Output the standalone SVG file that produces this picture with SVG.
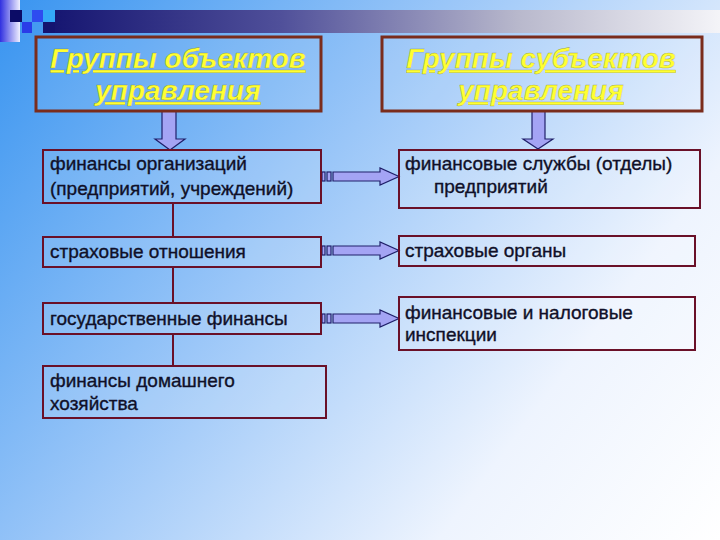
<svg xmlns="http://www.w3.org/2000/svg" width="720" height="540" viewBox="0 0 720 540">
<defs>
<linearGradient id="bg" gradientUnits="userSpaceOnUse" x1="0" y1="0" x2="720" y2="540">
<stop offset="0" stop-color="#3894f0"/>
<stop offset="0.4" stop-color="#9ac6f8"/>
<stop offset="0.75" stop-color="#eef4fe"/>
<stop offset="1" stop-color="#ffffff"/>
</linearGradient>
<linearGradient id="bar" x1="0" y1="0" x2="1" y2="0">
<stop offset="0" stop-color="#141470"/>
<stop offset="0.35" stop-color="#50509a"/>
<stop offset="0.7" stop-color="#b8b8cc"/>
<stop offset="1" stop-color="#f4f4f8"/>
</linearGradient>
<linearGradient id="col" x1="0" y1="0" x2="1" y2="0">
<stop offset="0" stop-color="#3030e0"/>
<stop offset="1" stop-color="#f0f0ff"/>
</linearGradient>
<style>
.hdr{fill:#ffffff;fill-opacity:0.08;stroke:#7a2c1c;stroke-width:3}
.box{fill:#ffffff;fill-opacity:0.12;stroke:#6a1028;stroke-width:2}
.ht{font-family:"Liberation Sans",Arial,sans-serif;font-size:28px;font-weight:bold;font-style:italic;fill:#ffff33;text-decoration:underline;text-anchor:middle;stroke:#5a5a20;stroke-width:0.4;stroke-opacity:0.5}
.t{font-family:"Liberation Sans",Arial,sans-serif;font-size:19px;fill:#101028;stroke:#101028;stroke-width:0.35}
.arr{fill:#a4a4f4;stroke:#20206a;stroke-width:1.2}
.vl{stroke:#6a1028;stroke-width:2;fill:none}
</style>
</defs>
<rect width="720" height="540" fill="url(#bg)"/>
<g id="decor">
<rect x="45" y="10" width="675" height="23" fill="url(#bar)"/>
<rect x="0" y="0" width="20" height="42" fill="url(#col)"/>
<rect x="10" y="10" width="12" height="12" fill="#0c0c66"/>
<rect x="32" y="10" width="11" height="12" fill="#2e4cf0"/>
<rect x="43" y="10" width="12" height="12" fill="#34a8f8"/>
<rect x="22" y="22" width="10" height="11" fill="#2a3ce8"/>
<rect x="43" y="22" width="12" height="11" fill="#141470"/>
</g>
<g id="connectors">
<path class="arr" d="M162,111 H176 V139 H185 L170,150 L155,139 H162 Z"/>
<path class="arr" d="M532,111 H545 V139 H553 L538,149 L523,139 H532 Z"/>
<line class="vl" x1="173" y1="203" x2="173" y2="237"/>
<line class="vl" x1="173" y1="267" x2="173" y2="303"/>
<line class="vl" x1="173" y1="334" x2="173" y2="366"/>
<g id="arrow1">
<rect class="arr" x="322" y="172" width="3" height="9"/>
<rect class="arr" x="327" y="172" width="4" height="9"/>
<path class="arr" d="M333,172 H380 V168 L399,176.5 L380,185 V181 H333 Z"/>
</g>
<g id="arrow2">
<rect class="arr" x="322" y="246" width="3" height="9"/>
<rect class="arr" x="327" y="246" width="4" height="9"/>
<path class="arr" d="M333,246 H380 V242 L399,250.5 L380,259 V255 H333 Z"/>
</g>
<g id="arrow3">
<rect class="arr" x="322" y="314" width="3" height="9"/>
<rect class="arr" x="327" y="314" width="4" height="9"/>
<path class="arr" d="M333,314 H380 V310 L399,318.5 L380,327 V323 H333 Z"/>
</g>
</g>
<g id="hdr-left">
<rect class="hdr" x="36" y="37" width="285" height="74"/>
<text class="ht" x="178" y="68">Группы объектов</text>
<text class="ht" x="178" y="100">управления</text>
</g>
<g id="hdr-right">
<rect class="hdr" x="382" y="37" width="320" height="74"/>
<text class="ht" x="541" y="68">Группы субъектов</text>
<text class="ht" x="541" y="100">управления</text>
</g>
<g id="l1">
<rect class="box" x="43" y="150" width="278" height="53"/>
<text class="t" x="50" y="170">финансы организаций</text>
<text class="t" x="50" y="195">(предприятий, учреждений)</text>
</g>
<g id="l2">
<rect class="box" x="43" y="237" width="278" height="30"/>
<text class="t" x="50" y="258">страховые отношения</text>
</g>
<g id="l3">
<rect class="box" x="43" y="303" width="278" height="31"/>
<text class="t" x="50" y="325">государственные финансы</text>
</g>
<g id="l4">
<rect class="box" x="43" y="366" width="283" height="52"/>
<text class="t" x="50" y="387">финансы домашнего</text>
<text class="t" x="50" y="410">хозяйства</text>
</g>
<g id="r1">
<rect class="box" x="399" y="150" width="301" height="58"/>
<text class="t" x="405" y="170">финансовые службы (отделы)</text>
<text class="t" x="434" y="193">предприятий</text>
</g>
<g id="r2">
<rect class="box" x="399" y="236" width="296" height="30"/>
<text class="t" x="405" y="257">страховые органы</text>
</g>
<g id="r3">
<rect class="box" x="399" y="297" width="296" height="53"/>
<text class="t" x="405" y="319">финансовые и налоговые</text>
<text class="t" x="405" y="341">инспекции</text>
</g>
</svg>
